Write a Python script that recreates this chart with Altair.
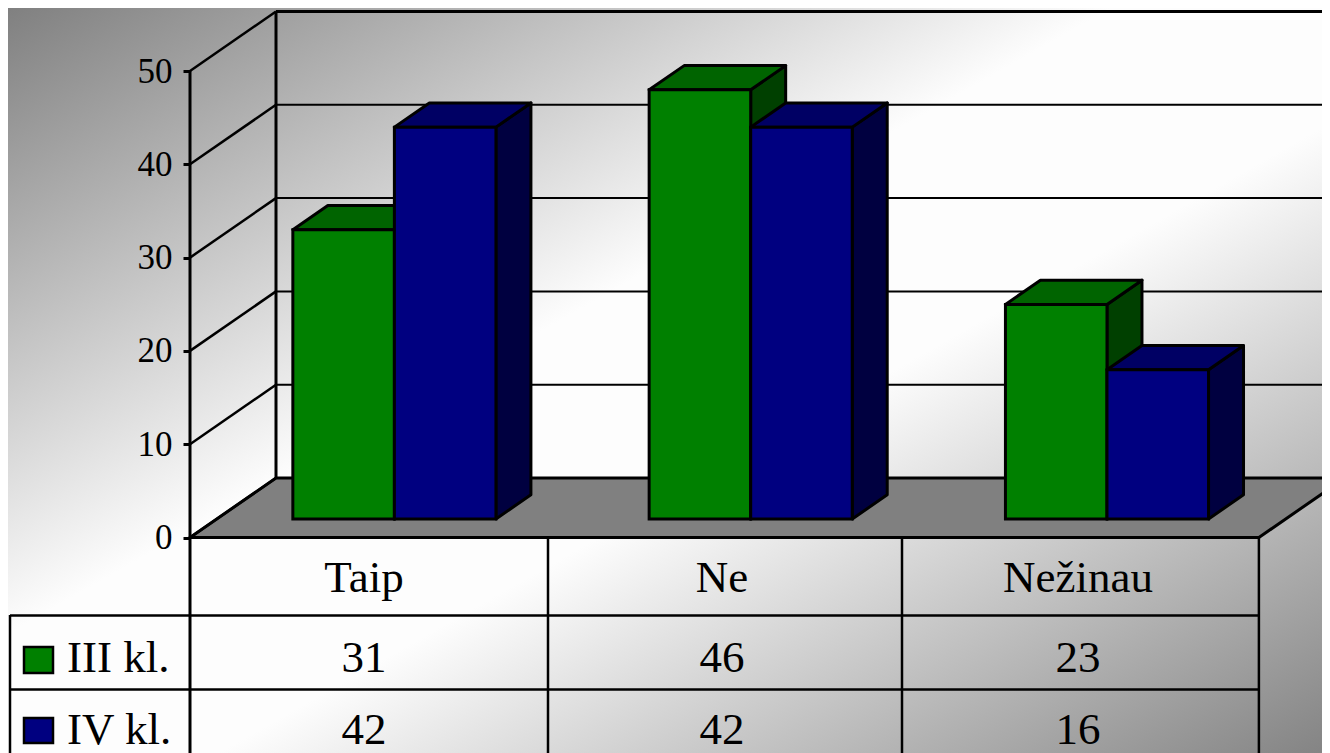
import altair as alt
import pandas as pd

categories = ["Taip", "Ne", "Nežinau"]
series_names = ["III kl.", "IV kl."]
values_iii = [31, 46, 23]
values_iv = [42, 42, 16]
axis_ticks = [0, 10, 20, 30, 40, 50]
front_colors = ["#008000", "#000080"]
top_colors = ["#006400", "#000064"]
side_colors = ["#004000", "#000040"]

# layout (page pixels -> scale units)
PX_CAT = 356.3
PX_VAL = 9.33
X0, Y0 = 190.0, 537.5
OFF = 8
W, H = 1314, 745


def cx(px):
    return (px - X0) / PX_CAT


def vy(py):
    return (Y0 - py) / PX_VAL


XS = alt.Scale(domain=[cx(OFF), cx(OFF + W)], range=[0, W], nice=False, zero=False)
YS = alt.Scale(domain=[vy(OFF + H), vy(OFF)], range=[H, 0], nice=False, zero=False)
DX, DY = 86 / PX_CAT, 59.5 / PX_VAL
F = 18 / 59
B = 24 / 59

AXIS = alt.Axis(
    values=axis_ticks, offset=-(X0 - OFF), title=None, grid=False, domain=False,
    tickSize=7, tickWidth=3, tickColor="#000000", labelPadding=11,
    labelFont="Liberation Serif", labelFontSize=35, labelColor="#000000",
    zindex=1,
)


def X(f="x"):
    return alt.X(f + ":Q", scale=XS, axis=None)


def Y(f="y"):
    return alt.Y(f + ":Q", scale=YS, axis=AXIS)


def rules(segs, width, color="#000000"):
    df = pd.DataFrame(segs, columns=["x", "y", "x2", "y2"])
    return alt.Chart(df).mark_rule(strokeWidth=width, color=color, clip=True).encode(
        x=X(), y=Y(), x2="x2:Q", y2="y2:Q"
    )


# background gradient
grad = alt.Gradient(
    gradient="linear",
    x1=0, y1=0, x2=1, y2=1,
    stops=[
        alt.GradientStop(color="#808080", offset=0),
        alt.GradientStop(color="#fdfdfd", offset=0.42),
        alt.GradientStop(color="#fdfdfd", offset=0.58),
        alt.GradientStop(color="#848484", offset=1),
    ],
)
bg = (
    alt.Chart(pd.DataFrame({"x": [cx(OFF)], "x2": [cx(OFF + W)], "y": [vy(OFF + H)], "y2": [vy(OFF)]}))
    .mark_rect(color=grad)
    .encode(x=X(), x2="x2:Q", y=Y(), y2="y2:Q")
)

# floor
floor = (
    alt.Chart(pd.DataFrame({"x": [0, DX], "x2": [3, 3 + DX], "y": [0, DY]}))
    .mark_area(orient="horizontal", color="#808080", stroke="#000000", strokeWidth=3, clip=True)
    .encode(x=X(), x2="x2:Q", y=Y())
)

# walls
wall_h = [(DX, t + DY, 3 + DX, t + DY) for t in axis_ticks]
wall_d = [(0, t, DX, t + DY) for t in axis_ticks]
grid = rules(wall_h[1:-1], 2)
wall_top = rules(wall_h[-1:], 3)
wall_diag = rules(wall_d, 2.5)
wall_edges = rules([(0, 50, 0, vy(760)), (DX, DY, DX, 50 + DY)], 3)

# bars
layers = []
bar_w = 0.285
for s, vals in enumerate([values_iii, values_iv]):
    for i, v in enumerate(vals):
        x0 = i + 0.5 - bar_w * (1 - s) + DX * F
        x1 = x0 + bar_w
        base = vy(519)
        top = base + v
        ddx, ddy = DX * B, DY * B
        side = pd.DataFrame({
            "x": [x1, x1 + ddx], "y": [top, top + ddy], "y2": [base, base + ddy],
        })
        layers.append(
            alt.Chart(side)
            .mark_area(color=side_colors[s], stroke="#000000", strokeWidth=3, strokeJoin="round")
            .encode(x=X(), y=Y(), y2="y2:Q")
        )
        roof = pd.DataFrame({
            "x": [x0, x0 + ddx], "x2": [x1, x1 + ddx], "y": [top, top + ddy],
        })
        layers.append(
            alt.Chart(roof)
            .mark_area(orient="horizontal", color=top_colors[s], stroke="#000000", strokeWidth=3, strokeJoin="round")
            .encode(x=X(), x2="x2:Q", y=Y())
        )
        front = pd.DataFrame({"x": [x0], "x2": [x1], "y": [base], "y2": [top]})
        layers.append(
            alt.Chart(front)
            .mark_rect(color=front_colors[s], stroke="#000000", strokeWidth=3)
            .encode(x=X(), x2="x2:Q", y=Y(), y2="y2:Q")
        )

# data table lines
XL = cx(10)
table_h = [(0, vy(537.5), 3, vy(537.5))]
table_rows = [(XL, vy(615.5), 3, vy(615.5)), (XL, vy(689.5), 3, vy(689.5))]
table_v = [(XL, vy(615), XL, vy(760)), (cx(548), vy(537), cx(548), vy(760)),
           (cx(902), vy(537), cx(902), vy(760)), (3, vy(537), 3, vy(760))]
t1 = rules(table_h, 3)
t2 = rules(table_rows, 2.5)
t3 = rules(table_v, 2.5)


def texts(labels, px_x, px_y, align):
    df = pd.DataFrame({"x": [cx(p) for p in px_x], "y": [vy(p) for p in px_y], "t": labels})
    return alt.Chart(df).mark_text(
        font="Liberation Serif", fontSize=45, color="#000000", align=align, baseline="alphabetic"
    ).encode(x=X(), y=Y(), text="t:N")


cols = [364, 722, 1078]
txt = [
    texts(categories, cols, [592] * 3, "center"),
    texts([str(v) for v in values_iii], cols, [672] * 3, "center"),
    texts([str(v) for v in values_iv], cols, [744] * 3, "center"),
    texts(series_names, [67, 67], [672, 744], "left"),
]

keys = pd.DataFrame({
    "x": [cx(24), cx(24)], "x2": [cx(53), cx(53)],
    "y": [vy(647), vy(718)], "y2": [vy(673), vy(743)],
    "c": front_colors,
})
key_marks = (
    alt.Chart(keys)
    .mark_rect(stroke="#000000", strokeWidth=2.5)
    .encode(x=X(), x2="x2:Q", y=Y(), y2="y2:Q", color=alt.Color("c:N", scale=None))
)

chart = alt.layer(
    bg, floor, grid, wall_top, wall_diag, wall_edges, *layers, t1, t2, t3, key_marks, *txt
).properties(
    width=W, height=H, padding=0, autosize=alt.AutoSizeParams(type="none")
).configure_view(stroke=None)

chart.save("out.html", embed_options={"renderer": "svg", "actions": False})
